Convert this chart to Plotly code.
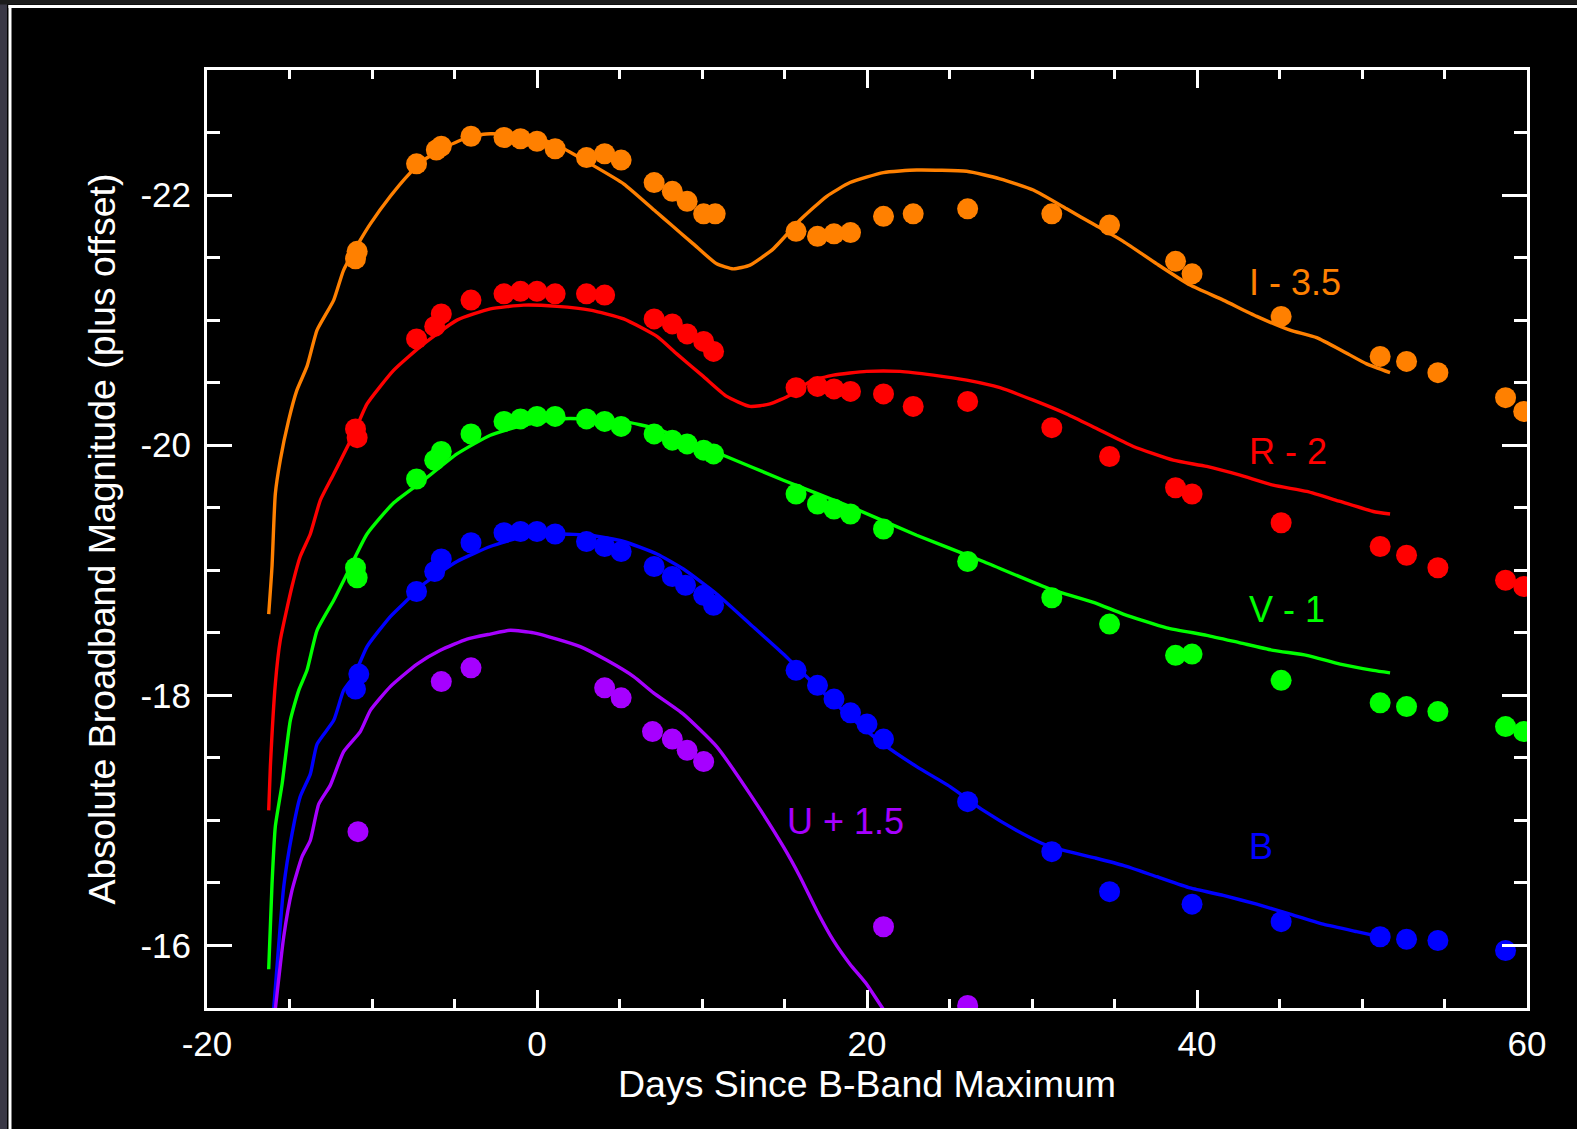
import plotly.graph_objects as go

# ---------------- data (days since B max, absolute magnitude incl. offset) -------------
I_days = [-11.0, -10.9, -7.3, -6.1, -5.8, -4.0, -2.0, -1.0, 0.0, 1.1, 3.0, 4.1, 5.1, 7.1, 8.2, 9.1,
          10.1, 10.8, 15.7, 17.0, 18.0, 19.0, 21.0, 22.8, 26.1, 31.2, 34.7, 38.7, 39.7, 45.1, 51.1,
          52.7, 54.6, 58.7, 59.8]
I_mags = [-21.49, -21.55, -22.25, -22.36, -22.39, -22.47, -22.46, -22.45, -22.43, -22.37, -22.30,
          -22.33, -22.28, -22.10, -22.03, -21.95, -21.85, -21.85, -21.71, -21.67, -21.69, -21.70,
          -21.83, -21.85, -21.89, -21.85, -21.76, -21.47, -21.37, -21.03, -20.71, -20.67, -20.58,
          -20.38, -20.27]

R_days = [-11.0, -10.9, -7.3, -6.2, -5.8, -4.0, -2.0, -1.0, 0.0, 1.1, 3.0, 4.1, 7.1, 8.2, 9.1, 10.1,
          10.7, 15.7, 17.0, 18.0, 19.0, 21.0, 22.8, 26.1, 31.2, 34.7, 38.7, 39.7, 45.1, 51.1, 52.7,
          54.6, 58.7, 59.8]
R_mags = [-20.13, -20.06, -20.85, -20.95, -21.05, -21.16, -21.21, -21.23, -21.23, -21.21, -21.21,
          -21.20, -21.01, -20.97, -20.89, -20.83, -20.75, -20.46, -20.47, -20.45, -20.43, -20.41,
          -20.31, -20.35, -20.14, -19.91, -19.66, -19.61, -19.38, -19.19, -19.12, -19.02, -18.92,
          -18.87]

V_days = [-11.0, -10.9, -7.3, -6.2, -5.8, -4.0, -2.0, -1.0, 0.0, 1.1, 3.0, 4.1, 5.1, 7.1, 8.2, 9.1,
          10.1, 10.7, 15.7, 17.0, 18.0, 19.0, 21.0, 26.1, 31.2, 34.7, 38.7, 39.7, 45.1, 51.1, 52.7,
          54.6, 58.7, 59.8]
V_mags = [-19.02, -18.94, -19.73, -19.88, -19.95, -20.09, -20.19, -20.21, -20.23, -20.23, -20.21,
          -20.19, -20.15, -20.09, -20.04, -20.01, -19.96, -19.93, -19.61, -19.53, -19.49, -19.45,
          -19.33, -19.07, -18.78, -18.57, -18.32, -18.33, -18.12, -17.94, -17.91, -17.87, -17.75,
          -17.71]

B_days = [-11.0, -10.8, -7.3, -6.2, -5.8, -4.0, -2.0, -1.0, 0.0, 1.1, 3.0, 4.1, 5.1, 7.1, 8.2, 9.0,
          10.1, 10.7, 15.7, 17.0, 18.0, 19.0, 20.0, 21.0, 26.1, 31.2, 34.7, 39.7, 45.1, 51.1, 52.7,
          54.6, 58.7]
B_mags = [-18.05, -18.17, -18.83, -18.99, -19.09, -19.22, -19.30, -19.31, -19.31, -19.29, -19.23,
          -19.19, -19.15, -19.03, -18.95, -18.88, -18.80, -18.72, -18.20, -18.08, -17.97, -17.86,
          -17.77, -17.65, -17.15, -16.75, -16.43, -16.33, -16.19, -16.07, -16.05, -16.04, -15.96]

U_days = [-10.85, -5.8, -4.0, 4.1, 5.1, 7.0, 8.2, 9.1, 10.1, 21.0, 26.1]
U_mags = [-16.91, -18.11, -18.22, -18.06, -17.98, -17.71, -17.65, -17.56, -17.47, -16.15, -15.52]

# model light curves
I_model_days = [-16.26, -16.06, -15.86, -15.56, -15.05, -14.55, -13.94, -13.33, -12.32, -11.72,
                -10.71, -10.1, -8.89, -7.88, -6.87, -5.45, -4.04, -2.83, -1.01, 0.2, 1.62, 3.23,
                5.25, 7.27, 8.06, 9.47, 10.89, 11.9, 12.91, 14.32, 15.94, 17.56, 18.97, 20.99,
                23.01, 26.04, 28.06, 30.08, 32.1, 33.82, 35.53, 37.56, 39.58, 41.59, 43.62, 45.64,
                47.25, 48.87, 50.28, 51.7]
I_model_mags = [-18.65, -19.03, -19.61, -19.88, -20.2, -20.44, -20.63, -20.92, -21.16, -21.4,
                -21.64, -21.77, -21.99, -22.15, -22.28, -22.39, -22.47, -22.49, -22.48, -22.45,
                -22.37, -22.25, -22.09, -21.86, -21.77, -21.61, -21.45, -21.41, -21.44, -21.57,
                -21.8, -21.99, -22.10, -22.18, -22.2, -22.19, -22.13, -22.04, -21.89, -21.76,
                -21.63, -21.45, -21.28, -21.16, -21.03, -20.92, -20.86, -20.75, -20.65, -20.58]

R_model_days = [-16.26, -16.16, -15.86, -15.56, -14.85, -14.35, -13.74, -13.13, -12.32, -11.11,
                -10.3, -8.68, -6.87, -4.85, -2.83, -0.81, 1.21, 3.23, 5.25, 7.27, 8.47, 10.08,
                11.5, 12.91, 14.12, 15.33, 16.55, 17.96, 19.98, 22.0, 24.02, 26.04, 28.06, 30.08,
                32.1, 33.82, 36.14, 38.56, 40.59, 42.61, 44.62, 46.65, 48.67, 50.68, 51.7]
R_model_mags = [-17.08, -17.43, -18.09, -18.44, -18.87, -19.11, -19.29, -19.56, -19.77, -20.09,
                -20.33, -20.6, -20.81, -21.0, -21.09, -21.12, -21.11, -21.08, -21.01, -20.87,
                -20.73, -20.55, -20.39, -20.31, -20.33, -20.40, -20.51, -20.56, -20.59, -20.59,
                -20.56, -20.52, -20.46, -20.36, -20.25, -20.14, -19.99, -19.88, -19.83, -19.76,
                -19.68, -19.63, -19.55, -19.47, -19.45]

V_model_days = [-16.26, -16.06, -15.86, -15.45, -14.95, -14.44, -13.94, -13.33, -12.32, -11.52,
                -10.3, -8.68, -6.87, -4.85, -2.83, -0.81, 1.21, 3.23, 5.25, 7.27, 11.29, 14.93,
                18.97, 23.01, 27.05, 31.09, 33.82, 35.53, 38.16, 40.59, 42.61, 44.62, 46.65, 48.67,
                50.68, 51.7]
V_model_mags = [-15.81, -16.49, -16.95, -17.29, -17.8, -18.04, -18.2, -18.52, -18.76, -18.97,
                -19.29, -19.54, -19.72, -19.93, -20.08, -20.16, -20.21, -20.21, -20.19, -20.13,
                -19.92, -19.72, -19.51, -19.28, -19.07, -18.85, -18.74, -18.65, -18.54, -18.48,
                -18.42, -18.36, -18.32, -18.25, -18.2, -18.18]

B_model_days = [-16.26, -15.96, -15.65, -15.35, -14.85, -14.35, -13.74, -13.33, -12.32, -11.72,
                -11.11, -10.3, -8.89, -7.88, -6.87, -4.85, -2.83, -0.81, 1.21, 3.23, 5.25, 7.27,
                8.87, 10.89, 12.91, 14.93, 16.95, 18.97, 20.99, 23.01, 25.03, 27.05, 29.07, 31.09,
                33.82, 35.53, 37.56, 39.58, 41.59, 43.62, 45.64, 47.65, 49.68, 51.09, 51.7]
B_model_mags = [-15.0, -15.49, -16.01, -16.47, -16.89, -17.19, -17.37, -17.61, -17.8, -18.04,
                -18.15, -18.39, -18.63, -18.76, -18.89, -19.07, -19.19, -19.27, -19.29, -19.28,
                -19.23, -19.13, -19.01, -18.81, -18.57, -18.33, -18.07, -17.83, -17.61, -17.43,
                -17.27, -17.08, -16.92, -16.79, -16.70, -16.64, -16.55, -16.46, -16.4, -16.33,
                -16.25, -16.17, -16.11, -16.07, -16.05]

U_model_days = [-16.26, -15.86, -15.35, -14.85, -14.24, -13.74, -13.23, -12.53, -11.72, -10.71,
                -10.1, -8.89, -7.27, -5.86, -4.24, -2.83, -1.62, -0.2, 1.21, 2.62, 4.24, 5.86,
                7.06, 8.87, 10.89, 12.91, 14.93, 15.94, 16.95, 17.96, 18.97, 19.98, 20.99, 22.0]
U_model_mags = [-15.03, -15.49, -16.07, -16.44, -16.71, -16.84, -17.13, -17.28, -17.55, -17.71,
                -17.88, -18.07, -18.25, -18.36, -18.45, -18.49, -18.52, -18.50, -18.45, -18.39,
                -18.28, -18.15, -18.02, -17.85, -17.59, -17.21, -16.79, -16.55, -16.28, -16.04,
                -15.85, -15.69, -15.49, -15.33]

band_labels = ["I - 3.5", "R - 2", "V - 1", "B", "U + 1.5"]
label_days = [43.0, 43.0, 43.0, 43.0, 15.0]
label_mags = [-21.30, -19.95, -18.69, -16.79, -16.99]

x_tickvals = [-20, 0, 20, 40, 60]
x_ticktext = ["-20", "0", "20", "40", "60"]
y_tickvals = [-22, -20, -18, -16]
y_ticktext = ["-22", "-20", "-18", "-16"]

colors = {"I": "#FF8000", "R": "#FF0000", "V": "#00FF00", "B": "#0000FF", "U": "#A600FF"}
FONT = "Liberation Sans, Arial, Helvetica, sans-serif"

bands = [
    ("I", I_days, I_mags, I_model_days, I_model_mags),
    ("R", R_days, R_mags, R_model_days, R_model_mags),
    ("V", V_days, V_mags, V_model_days, V_model_mags),
    ("B", B_days, B_mags, B_model_days, B_model_mags),
    ("U", U_days, U_mags, U_model_days, U_model_mags),
]

fig = go.Figure()
for name, d, m, md, mm in bands:
    fig.add_trace(go.Scatter(x=md, y=mm, mode="lines", name=name + " model",
                             line=dict(color=colors[name], width=3.4, shape="spline",
                                       smoothing=0.5),
                             showlegend=False, hoverinfo="skip"))
for name, d, m, md, mm in bands:
    fig.add_trace(go.Scatter(x=d, y=m, mode="markers", name=name,
                             marker=dict(color=colors[name], size=21, line=dict(width=0)),
                             showlegend=False, cliponaxis=True))

for txt, xd, ym, c in zip(band_labels, label_days, label_mags, ["I", "R", "V", "B", "U"]):
    fig.add_annotation(x=xd, y=ym, text=txt, showarrow=False, xanchor="left", yanchor="middle",
                       font=dict(family=FONT, size=36, color=colors[c]))

W, H = 1577, 1129
L, R, T, B = 207, 50, 70, 121
pw, ph = W - L - R, H - T - B


def px(xp):
    return (xp - L) / pw


def py(yp):
    return (H - B - yp) / ph


# outer slide frame
fig.add_shape(type="rect", xref="paper", yref="paper", x0=px(0), x1=px(7), y0=py(H), y1=py(0),
              fillcolor="#3a3846", line=dict(width=0), layer="below")
fig.add_shape(type="rect", xref="paper", yref="paper", x0=px(0), x1=px(W), y0=py(4.5), y1=py(0),
              fillcolor="#1c1c1c", line=dict(width=0), layer="below")
fig.add_shape(type="line", xref="paper", yref="paper", x0=px(8.5), x1=px(W), y0=py(6.5), y1=py(6.5),
              line=dict(color="white", width=3))
fig.add_shape(type="line", xref="paper", yref="paper", x0=px(10), x1=px(10), y0=py(5), y1=py(H),
              line=dict(color="white", width=3))

axis_common = dict(showline=True, linecolor="white", linewidth=3, mirror="allticks",
                   ticks="inside", tickcolor="white", tickwidth=3, showgrid=False, zeroline=False,
                   tickfont=dict(family=FONT, size=35, color="white"))

fig.update_xaxes(range=[-20, 60], tickvals=x_tickvals, ticktext=x_ticktext, ticklen=18,
                 minor=dict(dtick=5, tick0=0, ticks="inside", ticklen=9, tickcolor="white",
                            tickwidth=3, showgrid=False),
                 title=dict(text="Days Since B-Band Maximum",
                            font=dict(family=FONT, size=37.5, color="white"), standoff=8),
                 ticklabelstandoff=3, **axis_common)
fig.update_yaxes(range=[-15.5, -23], tickvals=y_tickvals, ticktext=y_ticktext, ticklen=25,
                 minor=dict(dtick=0.5, tick0=0, ticks="inside", ticklen=13, tickcolor="white",
                            tickwidth=3, showgrid=False),
                 title=dict(text="Absolute Broadband Magnitude (plus offset)",
                            font=dict(family=FONT, size=37.5, color="white"), standoff=14),
                 ticklabelstandoff=6, **axis_common)

fig.update_layout(width=W, height=H, margin=dict(l=L, r=R, t=T, b=B, autoexpand=False),
                  paper_bgcolor="black", plot_bgcolor="black", showlegend=False,
                  font=dict(family=FONT, color="white"))

fig.write_html("out.html", config={"displayModeBar": False},
               post_script="document.body.style.margin='0';document.body.style.overflow='hidden';")
